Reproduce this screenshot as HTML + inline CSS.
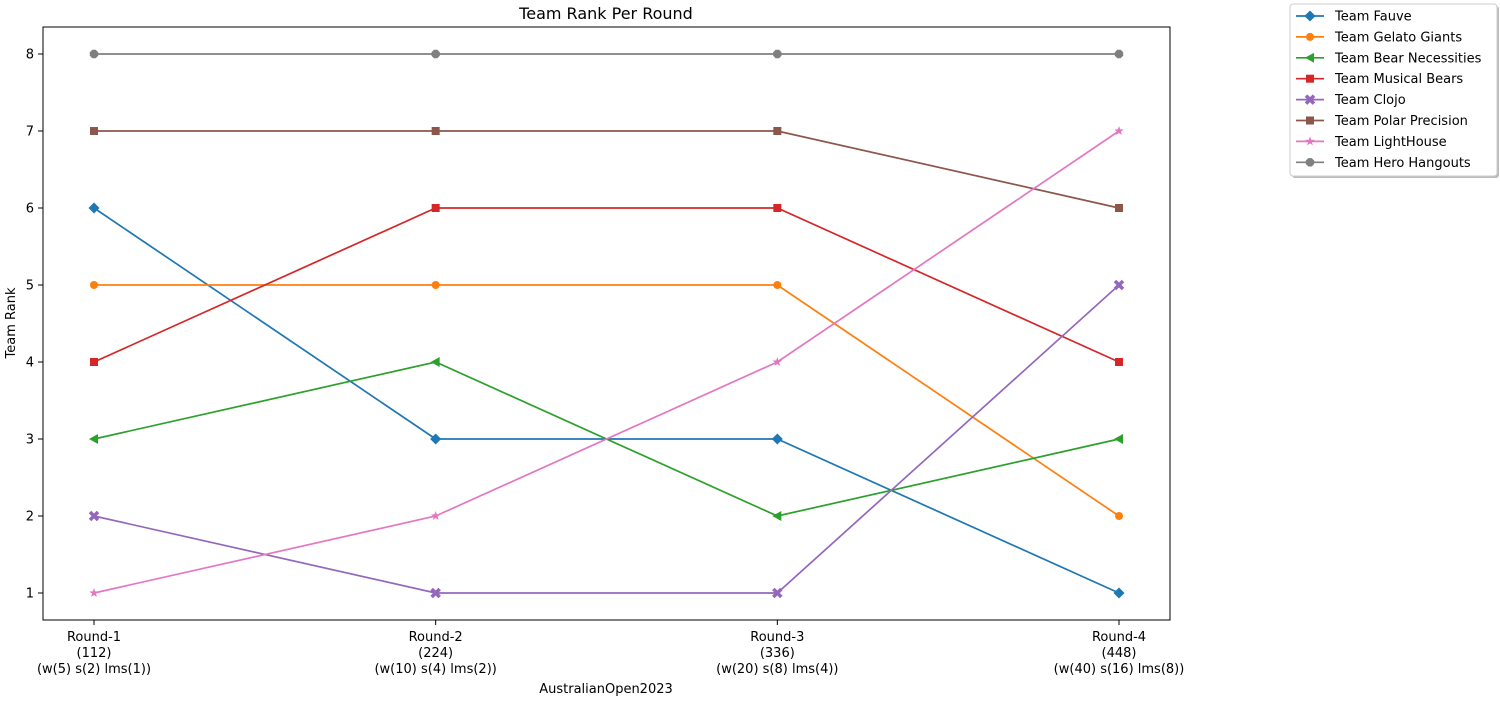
<!DOCTYPE html>
<html><head><meta charset="utf-8"><style>
body{margin:0;background:#fff;font-family:"Liberation Sans","DejaVu Sans",sans-serif}
</style></head><body>
<svg id="chart" width="1500" height="700" xmlns="http://www.w3.org/2000/svg" font-family="DejaVu Sans, Liberation Sans, sans-serif">
<text x="606" y="19" font-size="16" text-anchor="middle">Team Rank Per Round</text>
<rect x="43" y="27" width="1127" height="593" fill="none" stroke="#000" stroke-width="1"/>
<g id="axes"></g>
<g id="series"></g>
<text x="606" y="693" font-size="13" text-anchor="middle">AustralianOpen2023</text>
<text transform="translate(15,323) rotate(-90)" font-size="13" text-anchor="middle">Team Rank</text>
<g id="legend"></g>
</svg>
<script>
const categories=["Round-1","Round-2","Round-3","Round-4"];
const catSub1=["(112)","(224)","(336)","(448)"];
const catSub2=["(w(5) s(2) lms(1))","(w(10) s(4) lms(2))","(w(20) s(8) lms(4))","(w(40) s(16) lms(8))"];
const yTicks=[1,2,3,4,5,6,7,8];
const teams=["Team Fauve","Team Gelato Giants","Team Bear Necessities","Team Musical Bears","Team Clojo","Team Polar Precision","Team LightHouse","Team Hero Hangouts"];
const fauve=[6,3,3,1];
const gelato=[5,5,5,2];
const bear=[3,4,2,3];
const musical=[4,6,6,4];
const clojo=[2,1,1,5];
const polar=[7,7,7,6];
const lighthouse=[1,2,4,7];
const hero=[8,8,8,8];
const seriesVals=[fauve,gelato,bear,musical,clojo,polar,lighthouse,hero];
const colors=["#1f77b4","#ff7f0e","#2ca02c","#d62728","#9467bd","#8c564b","#e377c2","#7f7f7f"];
const markers=["D","o","<","s","X","s","*","8"];
const NS="http://www.w3.org/2000/svg";
const xS=i=>94+i*(1119-94)/(categories.length-1);
const yS=v=>593-(v-1)*(593-54)/7;
function mk(tag,attrs,parent){const e=document.createElementNS(NS,tag);for(const k in attrs)e.setAttribute(k,attrs[k]);parent.appendChild(e);return e;}
function marker(type,x,y,c,parent){
 let e;
 if(type==="D"){e=mk("polygon",{points:`${x},${y-5.5} ${x+5.5},${y} ${x},${y+5.5} ${x-5.5},${y}`,fill:c},parent);}
 else if(type==="o"){e=mk("circle",{cx:x,cy:y,r:4,fill:c},parent);}
 else if(type==="<"){e=mk("polygon",{points:`${x-5},${y} ${x+4},${y-5} ${x+4},${y+5}`,fill:c},parent);}
 else if(type==="s"){e=mk("rect",{x:x-4,y:y-4,width:8,height:8,fill:c},parent);}
 else if(type==="X"){e=mk("path",{d:`M${x-4},${y-4}L${x+4},${y+4}M${x+4},${y-4}L${x-4},${y+4}`,stroke:c,"stroke-width":3.5},parent);}
 else if(type==="*"){let p=[];for(let k=0;k<10;k++){const r=k%2?2:5;const a=-Math.PI/2+k*Math.PI/5;p.push((x+r*Math.cos(a)).toFixed(1)+","+(y+r*Math.sin(a)).toFixed(1));}e=mk("polygon",{points:p.join(" "),fill:c},parent);}
 else {let p=[];for(let k=0;k<8;k++){const a=Math.PI/8+k*Math.PI/4;p.push((x+4.5*Math.cos(a)).toFixed(1)+","+(y+4.5*Math.sin(a)).toFixed(1));}e=mk("polygon",{points:p.join(" "),fill:c},parent);}
 return e;
}
const axes=document.getElementById("axes");
yTicks.forEach(v=>{
 const t=mk("line",{x1:38,x2:43,y1:yS(v),y2:yS(v),stroke:"#000"},axes);
 
 
 const l=mk("text",{x:34,y:yS(v)+4.5,"font-size":13,"text-anchor":"end"},axes);l.textContent=v;
 
 
});
categories.forEach((c,i)=>{
 const x=xS(i);
 const t=mk("line",{x1:x,x2:x,y1:620,y2:625,stroke:"#000"},axes);
 
 
 [c,catSub1[i],catSub2[i]].forEach((s,j)=>{
  const l=mk("text",{x:x,y:641+j*16,"font-size":13,"text-anchor":"middle"},axes);l.textContent=s;
  
  
 });
});
const sg=document.getElementById("series");
seriesVals.forEach((vals,s)=>{
 const g=mk("g",{},sg);
 
 
 mk("polyline",{points:vals.map((v,i)=>xS(i)+","+yS(v)).join(" "),fill:"none",stroke:colors[s],"stroke-width":1.7},g);
 vals.forEach((v,i)=>{const m=marker(markers[s],xS(i),yS(v),colors[s],g);
  
  });
});
const lg=document.getElementById("legend");
const lb=mk("rect",{x:1292,y:6,width:207,height:172,fill:"#bbb",rx:3},lg);
mk("rect",{x:1290,y:4,width:207,height:172,fill:"#fff",stroke:"#ccc",rx:3},lg);


teams.forEach((t,s)=>{
 const y=16+s*20.9;
 const g=mk("g",{},lg);
 
 
 mk("line",{x1:1296,x2:1324,y1:y,y2:y,stroke:colors[s],"stroke-width":1.7},g);
 marker(markers[s],1310,y,colors[s],g);
 const l=mk("text",{x:1335,y:y+4.5,"font-size":13},g);l.textContent=t;
});
</script>
</body></html>
